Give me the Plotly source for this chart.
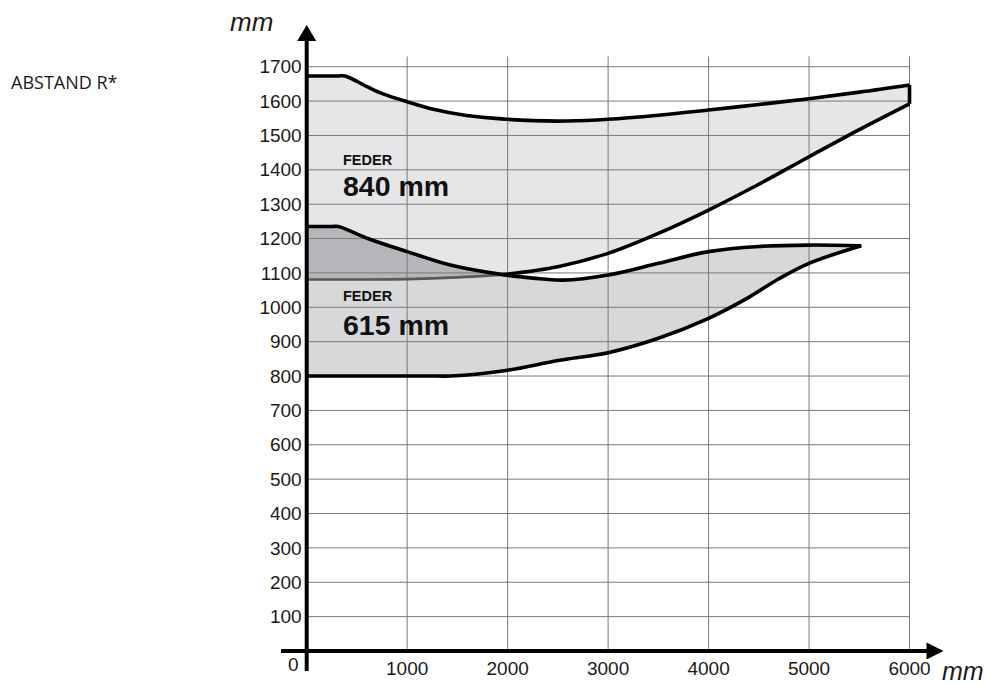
import plotly.graph_objects as go

# ---------------- data ----------------
x_ticks = [1000, 2000, 3000, 4000, 5000, 6000]
y_ticks = [100, 200, 300, 400, 500, 600, 700, 800, 900, 1000,
           1100, 1200, 1300, 1400, 1500, 1600, 1700]

# FEDER 840 mm band
upper_top_x = [0, 300, 380, 600, 760, 1000, 1260, 1590, 2000, 2250, 2590, 3000, 3500, 4000, 4500, 5000, 5500, 6000]
upper_top_y = [1673, 1673, 1673, 1642, 1621, 1598, 1576, 1558, 1547, 1543, 1542, 1547, 1559, 1574, 1590, 1607, 1626, 1647]
upper_bot_x = [0, 500, 1000, 1500, 1950, 2500, 3000, 3500, 4000, 4500, 5000, 5500, 6000]
upper_bot_y = [1081, 1081, 1082, 1087, 1095, 1118, 1157, 1215, 1283, 1358, 1438, 1517, 1592]

# FEDER 615 mm band
lower_top_x = [0, 250, 315, 600, 1000, 1430, 1950, 2250, 2550, 3000, 3500, 4000, 4500, 5000, 5520]
lower_top_y = [1235, 1235, 1235, 1201, 1162, 1123, 1095, 1085, 1079, 1094, 1128, 1162, 1177, 1181, 1179]
lower_bot_x = [0, 1300, 1430, 2000, 2500, 3000, 3500, 4000, 4400, 4700, 5000, 5520]
lower_bot_y = [800, 800, 800, 817, 845, 868, 910, 968, 1029, 1083, 1128, 1179]

crossing_x = 1950  # where the two bands' boundaries cross

# ---------------- layout geometry ----------------
W, H = 988, 684
ML, MR, MT, MB = 281, 44, 25, 13
X0_PX, XPX = 306.7, 0.10047    # pixel of x=0, px per mm
Y0_PX, YPX = 651.0, 0.3437     # pixel of y=0, px per mm
plot_w = W - ML - MR
plot_h = H - MT - MB
x_range = [(ML - X0_PX) / XPX, (W - MR - X0_PX) / XPX]
y_range = [(Y0_PX - (H - MB)) / YPX, (Y0_PX - MT) / YPX]


def px_to_paper(px, py):
    return (px - ML) / plot_w, (H - MB - py) / plot_h


SPL = dict(shape="spline", smoothing=1.0)
fig = go.Figure()


def sub(xs, ys, cond):
    pts = [(x, y) for x, y in zip(xs, ys) if cond(x)]
    return [p[0] for p in pts], [p[1] for p in pts]


# ---------------- fills (between spline boundaries) ----------------
def band(bx, by, tx, ty, color):
    fig.add_trace(go.Scatter(x=bx, y=by, mode="lines", line=dict(width=0, **SPL),
                             hoverinfo="skip", showlegend=False))
    fig.add_trace(go.Scatter(x=tx, y=ty, mode="lines", line=dict(width=0, **SPL),
                             fill="tonexty", fillcolor=color,
                             hoverinfo="skip", showlegend=False))


band(upper_bot_x, upper_bot_y, upper_top_x, upper_top_y, "#e6e6e8")
band(lower_bot_x, lower_bot_y, lower_top_x, lower_top_y, "#d8d8da")
ov_bx, ov_by = sub(upper_bot_x, upper_bot_y, lambda x: x <= crossing_x)
ov_tx, ov_ty = sub(lower_top_x, lower_top_y, lambda x: x <= crossing_x)
band(ov_bx, ov_by, ov_tx, ov_ty, "#b6b6ba")

# ---------------- grid ----------------
gx, gy = [], []
for v in y_ticks:
    gx += [0, x_ticks[-1], None]
    gy += [v, v, None]
for v in x_ticks:
    gx += [v, v, None]
    gy += [0, 1730, None]
fig.add_trace(go.Scatter(x=gx, y=gy, mode="lines",
                         line=dict(color="#7a7a7a", width=1),
                         hoverinfo="skip", showlegend=False))

# ---------------- outlines ----------------
def outline(xs, ys, color="#000000", width=3.6):
    fig.add_trace(go.Scatter(x=xs, y=ys, mode="lines",
                             line=dict(color=color, width=width, **SPL),
                             hoverinfo="skip", showlegend=False))


outline(upper_top_x, upper_top_y)
outline([upper_top_x[-1], upper_bot_x[-1]], [upper_top_y[-1], upper_bot_y[-1]])
ub_bx, ub_by = sub(upper_bot_x, upper_bot_y, lambda x: x >= crossing_x)
outline(ub_bx, ub_by)
outline(ov_bx, ov_by, color="#58585a", width=2.6)
outline(lower_top_x, lower_top_y)
outline(lower_bot_x, lower_bot_y)

# ---------------- axes with arrows ----------------
shapes = []
tip_x = x_range[1] - 0.5 / XPX
tip_y = y_range[1]
ah_len_x, ah_half_x = 17 / XPX, 8.5 / YPX
ah_len_y, ah_half_y = 16 / YPX, 9.5 / XPX
shapes.append(dict(type="line", xref="x", yref="y", x0=x_range[0], x1=tip_x - ah_len_x * 0.5,
                   y0=0, y1=0, line=dict(color="black", width=4)))
shapes.append(dict(type="line", xref="x", yref="y", x0=0, x1=0,
                   y0=y_range[0], y1=tip_y - ah_len_y * 0.5, line=dict(color="black", width=4)))
shapes.append(dict(type="path", xref="x", yref="y", fillcolor="black", line=dict(width=0),
                   path=f"M {tip_x},0 L {tip_x - ah_len_x},{ah_half_x} L {tip_x - ah_len_x},{-ah_half_x} Z"))
shapes.append(dict(type="path", xref="x", yref="y", fillcolor="black", line=dict(width=0),
                   path=f"M 0,{tip_y} L {ah_half_y},{tip_y - ah_len_y} L {-ah_half_y},{tip_y - ah_len_y} Z"))

# ---------------- text ----------------
ann = []
lab_font = dict(family="Liberation Sans, Arial", size=19, color="#1a1a1a")
ann.append(dict(text="0", x=0, y=0, xref="x", yref="y", xanchor="right", yanchor="middle",
                xshift=-6, yshift=-13, showarrow=False, font=lab_font))
px, py = px_to_paper(251, 22)
ann.append(dict(text="<i>mm</i>", x=px, y=py, xref="paper", yref="paper", xanchor="center",
                yanchor="middle", showarrow=False,
                font=dict(family="Liberation Sans, Arial", size=26, color="#1a1a1a")))
px, py = px_to_paper(963, 671)
ann.append(dict(text="<i>mm</i>", x=px, y=py, xref="paper", yref="paper", xanchor="center",
                yanchor="middle", showarrow=False,
                font=dict(family="Liberation Sans, Arial", size=25, color="#1a1a1a")))
px, py = px_to_paper(9, 82)
ann.append(dict(text="ABSTAND R*", x=px, y=py, xref="paper", yref="paper", xanchor="left",
                yanchor="middle", showarrow=False,
                font=dict(family="Open Sans", size=18, color="#1a1a1a")))
for x, y, t, s in [(340, 1428, "FEDER", 14.5), (345, 1353, "840 mm", 28.5),
                   (340, 1033, "FEDER", 14.5), (345, 948, "615 mm", 28.5)]:
    ann.append(dict(text=f"<b>{t}</b>", x=x, y=y, xref="x", yref="y", xanchor="left",
                    yanchor="middle", showarrow=False,
                    font=dict(family="Liberation Sans, Arial", size=s, color="#111111")))

fig.update_layout(
    width=W, height=H, autosize=False,
    margin=dict(l=ML, r=MR, t=MT, b=MB, pad=0, autoexpand=False),
    paper_bgcolor="white", plot_bgcolor="white",
    shapes=shapes, annotations=ann, showlegend=False,
    xaxis=dict(range=x_range, showgrid=False, zeroline=False, showline=False,
               tickvals=x_ticks, ticktext=[str(v) for v in x_ticks], ticks="",
               anchor="free", position=px_to_paper(0, Y0_PX)[1], ticklabelstandoff=4,
               automargin=False, tickfont=lab_font, fixedrange=True),
    yaxis=dict(range=y_range, showgrid=False, zeroline=False, showline=False,
               tickvals=y_ticks, ticktext=[str(v) for v in y_ticks], ticks="",
               anchor="free", position=px_to_paper(X0_PX, 0)[0], ticklabelstandoff=5,
               automargin=False, tickfont=lab_font, fixedrange=True),
)

fig.write_html("out.html", config={"displayModeBar": False},
               post_script="document.body.style.margin='0';document.body.style.overflow='hidden';")
